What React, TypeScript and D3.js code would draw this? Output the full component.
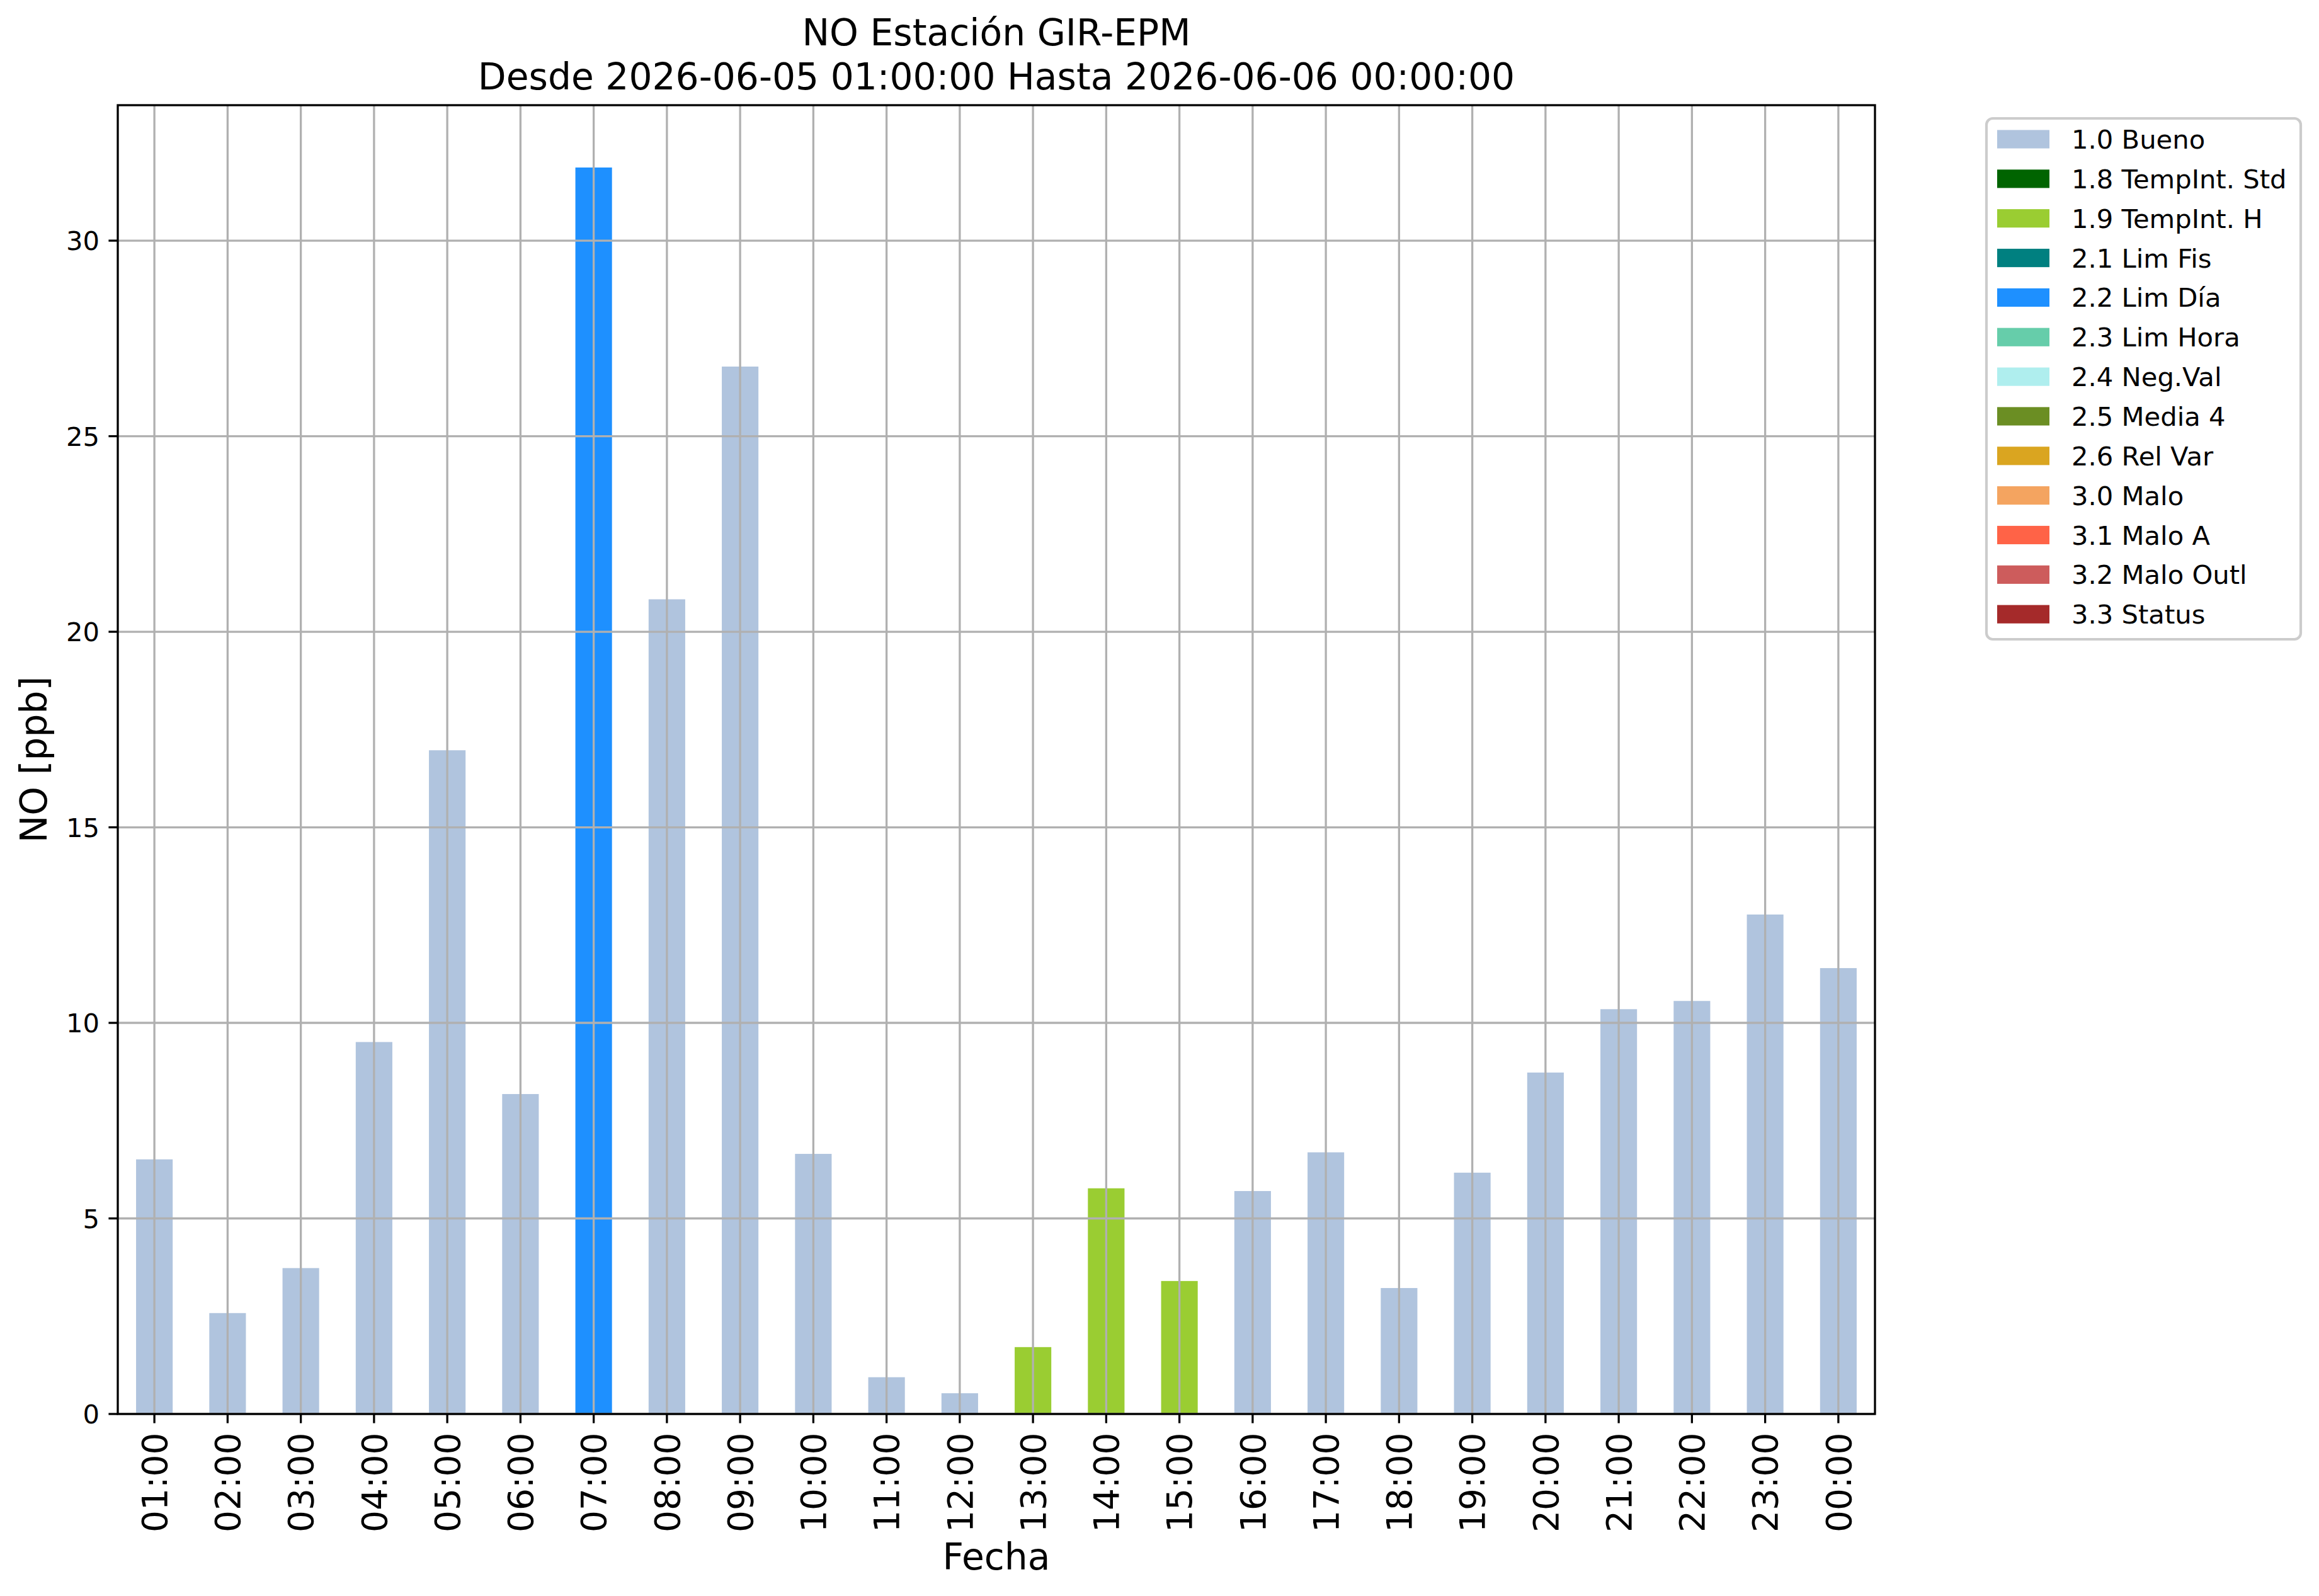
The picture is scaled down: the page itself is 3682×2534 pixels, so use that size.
import React, { useEffect, useRef } from "react";
import * as d3 from "d3";

const WIDTH = 3682;
const HEIGHT = 2534;
const PLOT = { left: 187, right: 2977, top: 167, bottom: 2245 };
const FONT = "'DejaVu Sans', sans-serif";

const TITLE_LINES = [
  "NO Estación GIR-EPM",
  "Desde 2026-06-05 01:00:00 Hasta 2026-06-06 00:00:00",
];

const HOURS = [
  "01:00", "02:00", "03:00", "04:00", "05:00", "06:00", "07:00", "08:00",
  "09:00", "10:00", "11:00", "12:00", "13:00", "14:00", "15:00", "16:00",
  "17:00", "18:00", "19:00", "20:00", "21:00", "22:00", "23:00", "00:00",
];

const VALUES = [
  6.51, 2.58, 3.73, 9.51, 16.97, 8.18, 31.87, 20.83,
  26.78, 6.65, 0.94, 0.53, 1.71, 5.77, 3.4, 5.7,
  6.69, 3.22, 6.17, 8.73, 10.35, 10.56, 12.77, 11.4,
];

// quality flag of each hour
const FLAGS = [
  "1.0", "1.0", "1.0", "1.0", "1.0", "1.0", "2.2", "1.0",
  "1.0", "1.0", "1.0", "1.0", "1.9", "1.9", "1.9", "1.0",
  "1.0", "1.0", "1.0", "1.0", "1.0", "1.0", "1.0", "1.0",
];

const FLAG_CODES = ["1.0", "1.8", "1.9", "2.1", "2.2", "2.3", "2.4", "2.5", "2.6", "3.0", "3.1", "3.2", "3.3"];
const FLAG_NAMES = [
  "Bueno", "TempInt. Std", "TempInt. H", "Lim Fis", "Lim Día", "Lim Hora",
  "Neg.Val", "Media 4", "Rel Var", "Malo", "Malo A", "Malo Outl", "Status",
];
const FLAG_COLORS = [
  "#b0c4de", "#006400", "#9acd32", "#008080", "#1e90ff", "#66cdaa",
  "#afeeee", "#6b8e23", "#daa520", "#f4a460", "#ff6347", "#cd5c5c", "#a52a2a",
];

const Y_TICKS = [0, 5, 10, 15, 20, 25, 30];

export default function App() {
  const svgRef = useRef<SVGSVGElement>(null);

  useEffect(() => {
    const svg = d3.select(svgRef.current);
    svg.selectAll("*").remove();

    const x = d3
      .scaleBand()
      .domain(HOURS)
      .range([PLOT.left, PLOT.right])
      .paddingInner(0.5)
      .paddingOuter(0.25);
    const y = d3
      .scaleLinear()
      .domain([0, (d3.max(VALUES) as number) * 1.05])
      .range([PLOT.bottom, PLOT.top]);
    const color = d3.scaleOrdinal<string, string>().domain(FLAG_CODES).range(FLAG_COLORS);

    svg.append("rect").attr("width", WIDTH).attr("height", HEIGHT).attr("fill", "white");

    // bars
    svg
      .append("g")
      .selectAll("rect")
      .data(HOURS)
      .join("rect")
      .attr("x", (d) => x(d) as number)
      .attr("width", x.bandwidth())
      .attr("y", (_, i) => y(VALUES[i]))
      .attr("height", (_, i) => y(0) - y(VALUES[i]))
      .attr("fill", (_, i) => color(FLAGS[i]));

    // grid on top of bars
    const grid = svg.append("g").attr("stroke", "#b0b0b0").attr("stroke-width", 3.3);
    grid
      .selectAll("line.v")
      .data(HOURS)
      .join("line")
      .attr("class", "v")
      .attr("x1", (d) => (x(d) as number) + x.bandwidth() / 2)
      .attr("x2", (d) => (x(d) as number) + x.bandwidth() / 2)
      .attr("y1", PLOT.top)
      .attr("y2", PLOT.bottom);
    grid
      .selectAll("line.h")
      .data(Y_TICKS)
      .join("line")
      .attr("class", "h")
      .attr("x1", PLOT.left)
      .attr("x2", PLOT.right)
      .attr("y1", (d) => y(d))
      .attr("y2", (d) => y(d));

    // frame
    svg
      .append("rect")
      .attr("x", PLOT.left)
      .attr("y", PLOT.top)
      .attr("width", PLOT.right - PLOT.left)
      .attr("height", PLOT.bottom - PLOT.top)
      .attr("fill", "none")
      .attr("stroke", "black")
      .attr("stroke-width", 3.3);

    // y axis ticks and labels
    const yAxis = svg.append("g");
    yAxis
      .selectAll("line")
      .data(Y_TICKS)
      .join("line")
      .attr("x1", PLOT.left - 14.6)
      .attr("x2", PLOT.left)
      .attr("y1", (d) => y(d))
      .attr("y2", (d) => y(d))
      .attr("stroke", "black")
      .attr("stroke-width", 3.3);
    yAxis
      .selectAll("text")
      .data(Y_TICKS)
      .join("text")
      .attr("x", PLOT.left - 29)
      .attr("y", (d) => y(d))
      .attr("dy", "0.36em")
      .attr("text-anchor", "end")
      .attr("font-family", FONT)
      .attr("font-size", 41.7)
      .text((d) => d);

    // x axis ticks and labels
    const xAxis = svg.append("g");
    xAxis
      .selectAll("line")
      .data(HOURS)
      .join("line")
      .attr("x1", (d) => (x(d) as number) + x.bandwidth() / 2)
      .attr("x2", (d) => (x(d) as number) + x.bandwidth() / 2)
      .attr("y1", PLOT.bottom)
      .attr("y2", PLOT.bottom + 14.6)
      .attr("stroke", "black")
      .attr("stroke-width", 3.3);
    xAxis
      .selectAll("text")
      .data(HOURS)
      .join("text")
      .attr(
        "transform",
        (d) => `translate(${(x(d) as number) + x.bandwidth() / 2},${PLOT.bottom + 29.5}) rotate(-90)`
      )
      .attr("dy", "0.36em")
      .attr("text-anchor", "end")
      .attr("font-family", FONT)
      .attr("font-size", 55)
      .text((d) => d);

    // axis labels
    svg
      .append("text")
      .attr("x", (PLOT.left + PLOT.right) / 2)
      .attr("y", 2492)
      .attr("text-anchor", "middle")
      .attr("font-family", FONT)
      .attr("font-size", 58.3)
      .text("Fecha");
    svg
      .append("text")
      .attr("transform", `translate(74,${(PLOT.top + PLOT.bottom) / 2}) rotate(-90)`)
      .attr("text-anchor", "middle")
      .attr("font-family", FONT)
      .attr("font-size", 58.3)
      .text("NO [ppb]");

    // title
    svg
      .append("g")
      .selectAll("text")
      .data(TITLE_LINES)
      .join("text")
      .attr("x", (PLOT.left + PLOT.right) / 2)
      .attr("y", (_, i) => 72 + i * 70)
      .attr("text-anchor", "middle")
      .attr("font-family", FONT)
      .attr("font-size", 58.3)
      .text((d) => d);

    // legend
    const legend = svg.append("g");
    legend
      .append("rect")
      .attr("x", 3154)
      .attr("y", 188)
      .attr("width", 499)
      .attr("height", 827)
      .attr("rx", 10)
      .attr("fill", "white")
      .attr("stroke", "#cccccc")
      .attr("stroke-width", 4.2);
    const rows = legend
      .selectAll("g")
      .data(FLAG_CODES)
      .join("g")
      .attr("transform", (_, i) => `translate(3171,${221 + i * 62.85})`);
    rows
      .append("rect")
      .attr("x", 0)
      .attr("y", -14.6)
      .attr("width", 83)
      .attr("height", 29.2)
      .attr("fill", (d) => color(d));
    rows
      .append("text")
      .attr("x", 118)
      .attr("dy", "0.36em")
      .attr("font-family", FONT)
      .attr("font-size", 41.7)
      .text((d, i) => `${d} ${FLAG_NAMES[i]}`);
  }, []);

  return (
    <svg
      ref={svgRef}
      width={WIDTH}
      height={HEIGHT}
      style={{ position: "absolute", left: 0, top: 0, display: "block" }}
    />
  );
}
